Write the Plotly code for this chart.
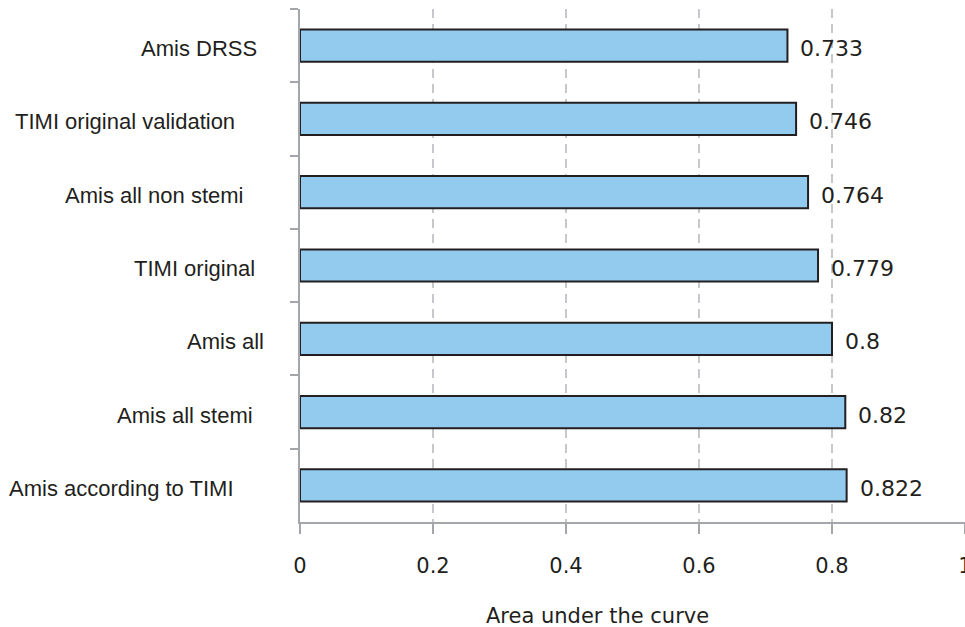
import plotly.graph_objects as go

categories = ["Amis DRSS", "TIMI original validation", "Amis all non stemi",
              "TIMI original", "Amis all", "Amis all stemi", "Amis according to TIMI"]
auc_values = [0.733, 0.746, 0.764, 0.779, 0.8, 0.82, 0.822]
value_labels = ["0.733", "0.746", "0.764", "0.779", "0.8", "0.82", "0.822"]
x_tick_values = [0, 0.2, 0.4, 0.6, 0.8, 1]
x_tick_labels = ["0", "0.2", "0.4", "0.6", "0.8", "1"]
x_title = "Area under the curve"

# style / layout (not data)
label_right_edges = [259, 237, 246, 257, 266, 255, 236]  # px from left of page
LEFT = 300
AXIS_COLOR = "#a3a7ab"
GRID_COLOR = "#c6c8cc"
TEXT_COLOR = "#231f20"

fig = go.Figure()
fig.add_trace(go.Bar(
    x=auc_values, y=categories, orientation="h",
    marker=dict(color="#93cbee", line=dict(color="#231f20", width=2)),
    hoverinfo="x+y",
))

annotations = []
for cat, v, lab in zip(categories, auc_values, value_labels):
    annotations.append(dict(x=v, y=cat, xref="x", yref="y", text=lab,
                            showarrow=False, xanchor="left", yanchor="middle",
                            xshift=11, yshift=-3,
                            font=dict(family="DejaVu Sans", size=22, color=TEXT_COLOR)))
for cat, edge in zip(categories, label_right_edges):
    annotations.append(dict(x=0, y=cat, xref="paper", yref="y", text=cat,
                            showarrow=False, xanchor="right", yanchor="middle",
                            xshift=-(LEFT - edge), yshift=-3,
                            font=dict(family="Liberation Sans, Arial", size=22, color=TEXT_COLOR)))
annotations.append(dict(x=0.448, y=0, xref="paper", yref="paper", text=x_title,
                        showarrow=False, xanchor="center", yanchor="top", yshift=-80,
                        font=dict(family="DejaVu Sans", size=21, color=TEXT_COLOR)))

fig.update_layout(
    width=965, height=627,
    margin=dict(l=LEFT, r=0, t=9, b=105, autoexpand=False),
    plot_bgcolor="white", paper_bgcolor="white",
    bargap=0.56,
    showlegend=False,
    annotations=annotations,
    xaxis=dict(range=[0, 1.0], tickvals=x_tick_values, ticktext=x_tick_labels,
               automargin=False,
               showline=True, linecolor=AXIS_COLOR, linewidth=2,
               ticks="outside", ticklen=10, tickwidth=2, tickcolor=AXIS_COLOR,
               showgrid=True, gridcolor=GRID_COLOR, gridwidth=2, griddash="9px,6px",
               zeroline=False, ticklabelstandoff=14, ticklabeloverflow="allow",
               tickfont=dict(family="DejaVu Sans", size=21, color=TEXT_COLOR)),
    yaxis=dict(autorange="reversed", showticklabels=False, automargin=False,
               showline=True, linecolor=AXIS_COLOR, linewidth=2,
               ticks="outside", ticklen=8, tickwidth=2, tickcolor=AXIS_COLOR,
               tickson="boundaries", showgrid=False, zeroline=False),
)

fig.write_html("out.html")
